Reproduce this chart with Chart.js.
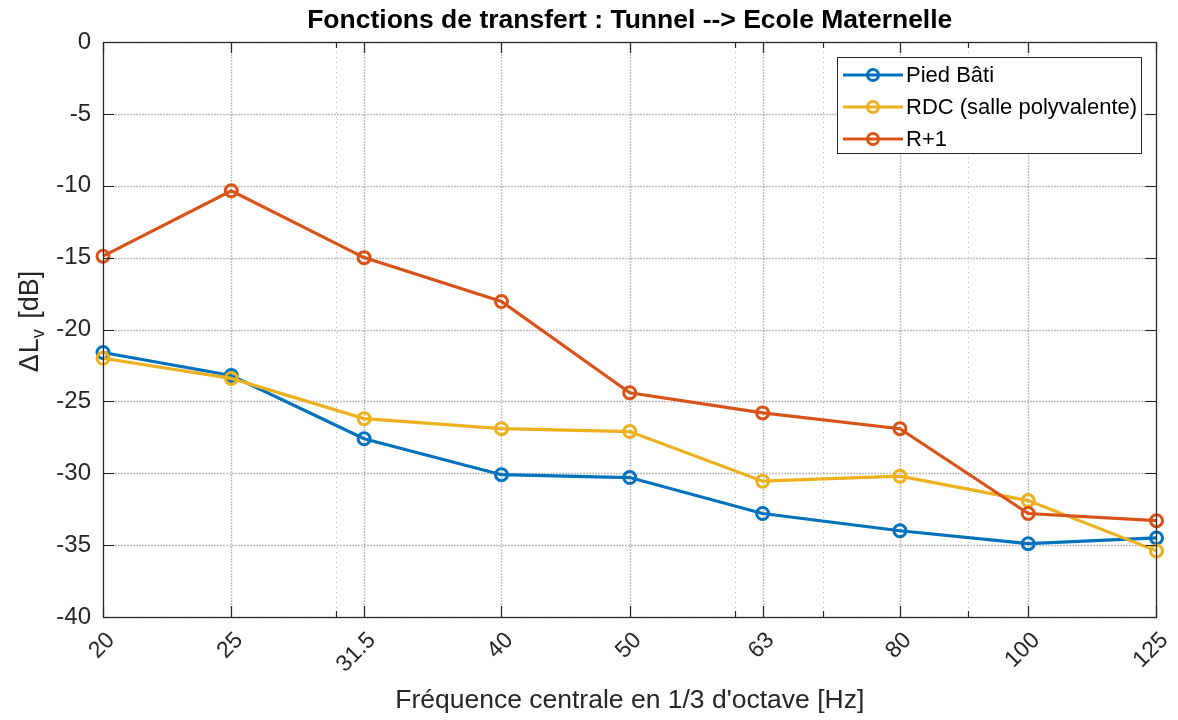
<!DOCTYPE html>
<html>
<head>
<meta charset="utf-8">
<script src="https://cdn.jsdelivr.net/npm/chart.js@4.4.1/dist/chart.umd.min.js"></script>
<style>
  html, body { margin: 0; padding: 0; background: #ffffff; }
  #wrap { width: 1178px; height: 720px; position: relative; }
</style>
</head>
<body>
<div id="wrap"><canvas id="c"></canvas></div>
<script>
// Third-octave band centre frequencies (Hz) and their printed labels
const frequencies = [20, 25, 31.5, 40, 50, 63, 80, 100, 125];
const tickLabels = ['20', '25', '31.5', '40', '50', '63', '80', '100', '125'];
const minorFrequencies = [30, 60, 70, 90];

// Transfer functions ΔLv (dB) per band
const piedBati = [-21.6, -23.2, -27.6, -30.1, -30.3, -32.8, -34.0, -34.9, -34.5];
const rdc      = [-22.0, -23.4, -26.2, -26.9, -27.1, -30.55, -30.2, -31.9, -35.4];
const r1       = [-14.9, -10.35, -15.0, -18.05, -24.4, -25.8, -26.9, -32.8, -33.3];

const seriesNames = ['Pied Bâti', 'RDC (salle polyvalente)', 'R+1'];
const yTicks = [0, -5, -10, -15, -20, -25, -30, -35, -40];

const FONT = "'Liberation Sans', Arial, Helvetica, sans-serif";
const AXIS_COLOR = '#262626';
const COLORS = ['#0072BD', '#EDB120', '#D95319'];

function toPoints(values) {
  return frequencies.map((f, i) => ({ x: f, y: values[i] }));
}

function makeDataset(label, values, color, order) {
  return {
    label: label,
    data: toPoints(values),
    borderColor: color,
    backgroundColor: color,
    borderWidth: 3.2,
    pointStyle: 'circle',
    pointRadius: 6,
    pointHoverRadius: 6,
    pointBorderWidth: 3,
    pointBorderColor: color,
    pointBackgroundColor: 'rgba(255,255,255,0)',
    tension: 0,
    clip: false,
    order: order
  };
}

// Grid, inward tick marks, frame, legend, title and axis titles
const decorations = {
  id: 'decorations',
  beforeDatasetsDraw(chart) {
    const { ctx, chartArea: a, scales } = chart;
    const xs = scales.x, ys = scales.y;
    ctx.save();
    // minor vertical grid
    ctx.strokeStyle = 'rgba(0,0,0,0.3)';
    ctx.lineWidth = 1;
    ctx.setLineDash([1, 4]);
    minorFrequencies.forEach(f => {
      const px = Math.round(xs.getPixelForValue(f)) + 0.5;
      ctx.beginPath(); ctx.moveTo(px, a.top); ctx.lineTo(px, a.bottom); ctx.stroke();
    });
    // major grid
    ctx.strokeStyle = 'rgba(0,0,0,0.26)';
    ctx.lineWidth = 1.4;
    ctx.setLineDash([2, 1]);
    frequencies.forEach(f => {
      const px = Math.round(xs.getPixelForValue(f)) + 0.5;
      ctx.beginPath(); ctx.moveTo(px, a.top); ctx.lineTo(px, a.bottom); ctx.stroke();
    });
    yTicks.forEach(v => {
      const py = Math.round(ys.getPixelForValue(v)) + 0.5;
      ctx.beginPath(); ctx.moveTo(a.left, py); ctx.lineTo(a.right, py); ctx.stroke();
    });
    ctx.restore();
  },
  afterDraw(chart) {
    const { ctx, chartArea: a, scales } = chart;
    const xs = scales.x, ys = scales.y;
    ctx.save();
    ctx.setLineDash([]);
    // frame
    ctx.strokeStyle = AXIS_COLOR;
    ctx.lineWidth = 1.2;
    ctx.strokeRect(Math.round(a.left) + 0.5, Math.round(a.top) + 0.5,
                   Math.round(a.right - a.left), Math.round(a.bottom - a.top));
    // inward ticks
    const major = 11, minor = 6;
    ctx.beginPath();
    frequencies.forEach(f => {
      const px = Math.round(xs.getPixelForValue(f)) + 0.5;
      ctx.moveTo(px, a.bottom); ctx.lineTo(px, a.bottom - major);
      ctx.moveTo(px, a.top); ctx.lineTo(px, a.top + major);
    });
    minorFrequencies.forEach(f => {
      const px = Math.round(xs.getPixelForValue(f)) + 0.5;
      ctx.moveTo(px, a.bottom); ctx.lineTo(px, a.bottom - minor);
      ctx.moveTo(px, a.top); ctx.lineTo(px, a.top + minor);
    });
    yTicks.forEach(v => {
      const py = Math.round(ys.getPixelForValue(v)) + 0.5;
      ctx.moveTo(a.left, py); ctx.lineTo(a.left + major, py);
      ctx.moveTo(a.right, py); ctx.lineTo(a.right - major, py);
    });
    ctx.stroke();

    // legend
    const lx = 837, ly = 57, lw = 304, lh = 96;
    ctx.fillStyle = '#ffffff';
    ctx.fillRect(lx, ly, lw, lh);
    ctx.strokeStyle = AXIS_COLOR;
    ctx.lineWidth = 1;
    ctx.strokeRect(lx + 0.5, ly + 0.5, lw, lh);
    chart.data.datasets.forEach((ds, i) => {
      const cy = ly + 18 + i * 32;
      ctx.strokeStyle = ds.borderColor;
      ctx.lineWidth = 3.2;
      ctx.beginPath(); ctx.moveTo(lx + 6, cy); ctx.lineTo(lx + 66, cy); ctx.stroke();
      ctx.lineWidth = 3;
      ctx.beginPath(); ctx.arc(lx + 36, cy, 5.5, 0, Math.PI * 2); ctx.stroke();
      ctx.fillStyle = '#000000';
      ctx.font = '22px ' + FONT;
      ctx.textAlign = 'left';
      ctx.textBaseline = 'middle';
      ctx.fillText(ds.label, lx + 69, cy + 1);
    });

    // title
    const cx = (a.left + a.right) / 2;
    ctx.fillStyle = '#000000';
    ctx.font = 'bold 26.5px ' + FONT;
    ctx.textAlign = 'center';
    ctx.textBaseline = 'middle';
    ctx.fillText('Fonctions de transfert : Tunnel --> Ecole Maternelle', cx, 21);

    // x axis title
    ctx.fillStyle = AXIS_COLOR;
    ctx.font = '26.5px ' + FONT;
    ctx.fillText("Fréquence centrale en 1/3 d'octave [Hz]", cx, 701);

    // y axis title with subscript
    const cyMid = (a.top + a.bottom) / 2 - 8;
    ctx.translate(38, cyMid);
    ctx.rotate(-Math.PI / 2);
    ctx.textBaseline = 'alphabetic';
    ctx.textAlign = 'left';
    const big = '27px ' + FONT, small = '18px ' + FONT;
    ctx.font = big;
    const wD = ctx.measureText('Δ').width;
    const wL = ctx.measureText('L').width;
    const w3 = ctx.measureText(' [dB]').width;
    ctx.font = small;
    const w2 = ctx.measureText('v').width;
    const gap = 1;
    const total = wD + gap + wL + w2 + 3 + w3;
    let x0 = -total / 2;
    const base = 0;
    ctx.font = big; ctx.fillText('Δ', x0, base);
    x0 += wD + gap;
    ctx.fillText('L', x0, base);
    x0 += wL;
    ctx.font = small; ctx.fillText('v', x0, base + 6);
    x0 += w2 + 3;
    ctx.font = big; ctx.fillText(' [dB]', x0, base);
    ctx.restore();
  }
};

const chart = new Chart(document.getElementById('c'), {
  type: 'line',
  data: {
    datasets: [
      makeDataset(seriesNames[0], piedBati, COLORS[0], 3),
      makeDataset(seriesNames[1], rdc, COLORS[1], 2),
      makeDataset(seriesNames[2], r1, COLORS[2], 1)
    ]
  },
  options: {
    responsive: true,
    maintainAspectRatio: false,
    animation: false,
    events: [],
    layout: { padding: { top: 42, right: 18, left: 0, bottom: 0 } },
    plugins: {
      legend: { display: false },
      title: { display: false },
      tooltip: { enabled: false }
    },
    scales: {
      x: {
        type: 'logarithmic',
        min: 20,
        max: 125,
        afterBuildTicks(scale) {
          scale.ticks = frequencies.map(v => ({ value: v, major: true }));
        },
        afterFit(scale) { scale.height = 103; },
        grid: { display: false },
        border: { display: false },
        ticks: {
          autoSkip: false,
          minRotation: 45,
          maxRotation: 45,
          padding: 2,
          labelOffset: 8,
          color: AXIS_COLOR,
          font: { family: FONT, size: 23 },
          callback(value) {
            const i = frequencies.indexOf(value);
            return i >= 0 ? tickLabels[i] : '';
          }
        }
      },
      y: {
        type: 'linear',
        min: -40,
        max: 0,
        afterBuildTicks(scale) {
          scale.ticks = yTicks.map(v => ({ value: v }));
        },
        afterFit(scale) { scale.width = 103; },
        grid: { display: false },
        border: { display: false },
        ticks: {
          padding: 4,
          color: AXIS_COLOR,
          font: { family: FONT, size: 24 }
        }
      }
    }
  },
  plugins: [decorations]
});
</script>
</body>
</html>
